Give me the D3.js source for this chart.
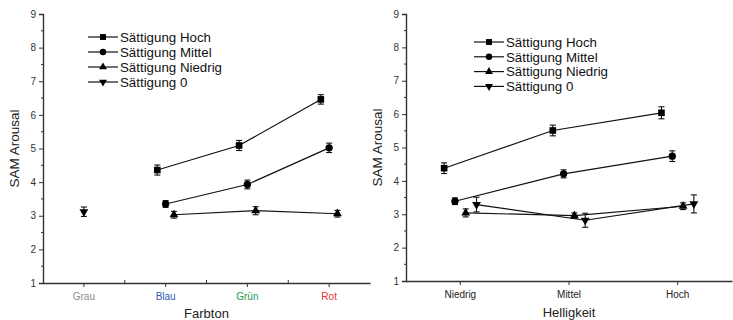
<!DOCTYPE html>
<html>
<head>
<meta charset="utf-8">
<script src="https://cdn.jsdelivr.net/npm/d3@7"></script>
<style>
  body { margin: 0; background: #fff; }
  text { font-family: "Liberation Sans", Arial, sans-serif; }
</style>
</head>
<body>
<svg id="chart" width="733" height="320"></svg>
<script>
// --- data ---
const seriesNames = ["Sättigung Hoch", "Sättigung Mittel", "Sättigung Niedrig", "Sättigung 0"];

const farbton = ["Grau", "Blau", "Grün", "Rot"];
const farbtonColors = ["#8c8c8c", "#2f58b8", "#1e9a4c", "#e8313a"];
const farbtonHoch = [null, 4.36, 5.09, 6.46];
const farbtonMittel = [null, 3.35, 3.93, 5.02];
const farbtonNiedrig = [null, 3.03, 3.15, 3.06];
const farbtonNull = [3.12, null, null, null];
const farbtonHochErr = [null, 0.15, 0.15, 0.14];
const farbtonMittelErr = [null, 0.1, 0.13, 0.14];
const farbtonNiedrigErr = [null, 0.1, 0.12, 0.1];
const farbtonNullErr = [0.14, null, null, null];

const helligkeit = ["Niedrig", "Mittel", "Hoch"];
const helligkeitHoch = [4.38, 5.51, 6.04];
const helligkeitMittel = [3.39, 4.21, 4.74];
const helligkeitNiedrig = [3.04, 2.96, 3.24];
const helligkeitNull = [3.29, 2.82, 3.31];
const helligkeitHochErr = [0.16, 0.16, 0.18];
const helligkeitMittelErr = [0.1, 0.12, 0.16];
const helligkeitNiedrigErr = [0.12, 0.08, 0.1];
const helligkeitNullErr = [0.22, 0.21, 0.27];

const yTicks = [1, 2, 3, 4, 5, 6, 7, 8, 9];

const symbols = [
    { type: d3.symbolSquare, size: 44, rot: 0 },
    { type: d3.symbolCircle, size: 42, rot: 0 },
    { type: d3.symbolTriangle, size: 34, rot: 0 },
    { type: d3.symbolTriangle, size: 34, rot: 180 },
];

const svg = d3.select("#chart");

function drawPanel(opts) {
    const g = svg.append("g");
    const x = d3.scaleBand().domain(opts.categories).range([opts.left, opts.right]);
    const y = d3.scaleLinear().domain([1, 9]).range([opts.bottom, opts.top]);

    // series lines, error bars, markers
    opts.series.forEach((vals, i) => {
        const pts = vals
            .map((v, j) => ({ cat: opts.categories[j], v, e: opts.errors[i][j] }))
            .filter(d => d.v != null);
        const px = d => x(d.cat) + x.bandwidth() / 2 + opts.offset(i);

        const line = d3.line().x(px).y(d => y(d.v));
        g.append("path")
            .datum(pts)
            .attr("d", line)
            .attr("fill", "none")
            .attr("stroke", "#111")
            .attr("stroke-width", 1.2);

        const eb = g.selectAll(null).data(pts).enter().append("g").attr("stroke", "#111").attr("stroke-width", 1.1);
        eb.append("line")
            .attr("x1", px).attr("x2", px)
            .attr("y1", d => y(d.v - d.e)).attr("y2", d => y(d.v + d.e));
        eb.append("line")
            .attr("x1", d => px(d) - 3).attr("x2", d => px(d) + 3)
            .attr("y1", d => y(d.v + d.e)).attr("y2", d => y(d.v + d.e));
        eb.append("line")
            .attr("x1", d => px(d) - 3).attr("x2", d => px(d) + 3)
            .attr("y1", d => y(d.v - d.e)).attr("y2", d => y(d.v - d.e));

        const s = symbols[i];
        g.selectAll(null).data(pts).enter().append("path")
            .attr("d", d3.symbol().type(s.type).size(s.size))
            .attr("transform", d => `translate(${px(d)},${y(d.v)}) rotate(${s.rot})`)
            .attr("fill", "#000");
    });

    // Y axis
    const yAxis = g.append("g")
        .attr("transform", `translate(${opts.left},0)`)
        .call(d3.axisLeft(y).tickValues(yTicks).tickSize(4).tickPadding(3));
    yAxis.select(".domain").attr("stroke", "#333").attr("stroke-width", 1.4);
    yAxis.selectAll(".tick line").attr("stroke", "#333");
    yAxis.selectAll("text").attr("font-size", 10).attr("fill", "#333")
        .style("font-family", "Liberation Sans, Arial, sans-serif");
    g.selectAll(null).data(d3.range(1.5, 9, 1)).enter().append("line")
        .attr("x1", opts.left - 2).attr("x2", opts.left)
        .attr("y1", d => y(d)).attr("y2", d => y(d))
        .attr("stroke", "#333");

    // X axis
    const xAxis = g.append("g")
        .attr("transform", `translate(0,${opts.bottom})`)
        .call(d3.axisBottom(x).tickSize(4).tickSizeOuter(0).tickPadding(6));
    xAxis.select(".domain").attr("stroke", "#333").attr("stroke-width", 1.4);
    xAxis.selectAll(".tick line").attr("stroke", "#333");
    xAxis.selectAll("text").attr("font-size", 10)
        .attr("fill", (d, i) => opts.tickColors ? opts.tickColors[i] : "#222")
        .style("font-family", "Liberation Sans, Arial, sans-serif");
    if (opts.minorX) {
        g.selectAll(null).data(opts.categories.slice(1)).enter().append("line")
            .attr("x1", d => x(d)).attr("x2", d => x(d))
            .attr("y1", opts.bottom - 3).attr("y2", opts.bottom)
            .attr("stroke", "#333");
    }

    // axis titles
    g.append("text")
        .attr("transform", `translate(${opts.yTitleX},${(opts.top + opts.bottom) / 2}) rotate(-90)`)
        .attr("text-anchor", "middle")
        .attr("font-size", 13.5)
        .attr("fill", "#222")
        .text("SAM Arousal");
    g.append("text")
        .attr("x", (opts.left + opts.right) / 2)
        .attr("y", opts.xTitleY)
        .attr("text-anchor", "middle")
        .attr("font-size", 13)
        .attr("fill", "#222")
        .text(opts.xTitle);

    // legend
    const legend = g.append("g").attr("transform", `translate(${opts.legendX},${opts.legendY})`);
    const items = legend.selectAll("g").data(seriesNames).enter().append("g")
        .attr("transform", (d, i) => `translate(0,${i * opts.legendStep})`);
    items.append("line").attr("x1", 0).attr("x2", 30).attr("y1", 0).attr("y2", 0)
        .attr("stroke", "#111").attr("stroke-width", 1.2);
    items.append("path")
        .attr("d", (d, i) => d3.symbol().type(symbols[i].type).size(symbols[i].size * 0.8)())
        .attr("transform", (d, i) => `translate(15,0) rotate(${symbols[i].rot})`)
        .attr("fill", "#000");
    items.append("text")
        .attr("x", 32).attr("y", 4.8)
        .attr("font-size", 13.3)
        .attr("fill", "#111")
        .text(d => d);
}

drawPanel({
    categories: farbton,
    tickColors: farbtonColors,
    series: [farbtonHoch, farbtonMittel, farbtonNiedrig, farbtonNull],
    errors: [farbtonHochErr, farbtonMittelErr, farbtonNiedrigErr, farbtonNullErr],
    offset: i => (i < 3 ? (i - 1) * 8.3 : 0),
    left: 43, right: 370, top: 14, bottom: 283,
    minorX: true,
    xTitle: "Farbton", xTitleY: 318, yTitleX: 19,
    legendX: 88, legendY: 37, legendStep: 15,
});

drawPanel({
    categories: helligkeit,
    series: [helligkeitHoch, helligkeitMittel, helligkeitNiedrig, helligkeitNull],
    errors: [helligkeitHochErr, helligkeitMittelErr, helligkeitNiedrigErr, helligkeitNullErr],
    offset: i => (i - 1.5) * 10.8,
    left: 406, right: 732, top: 14, bottom: 281,
    minorX: false,
    xTitle: "Helligkeit", xTitleY: 317, yTitleX: 382,
    legendX: 474, legendY: 42, legendStep: 14.8,
});
</script>
</body>
</html>
